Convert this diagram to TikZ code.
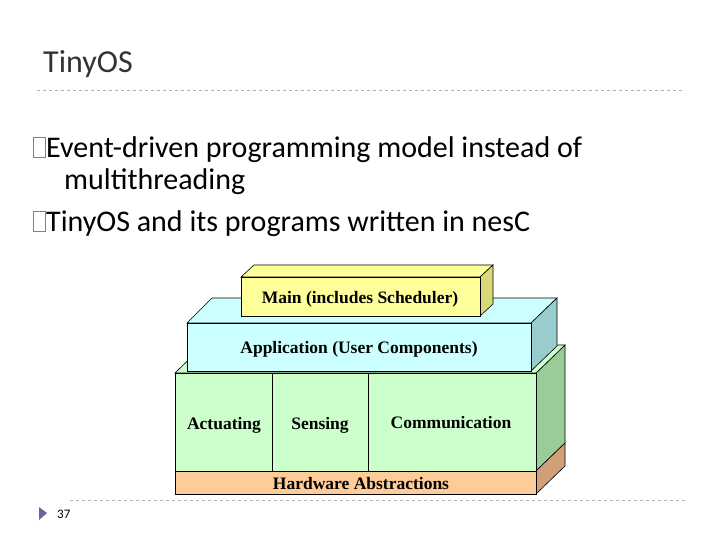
\documentclass[tikz,border=0pt]{standalone}
\usepackage{fontspec}
\setmainfont{Liberation Serif}
\newfontfamily\calib{Carlito}
\begin{document}
\begin{tikzpicture}[x=1pt,y=-1pt,
  face/.style={draw=black,line width=0.6pt},
  lbl/.style={font=\fontsize{17.5}{20}\selectfont\bfseries,inner sep=0},
  bul/.style={font=\calib\fontsize{30}{33}\selectfont,anchor=base west,inner sep=0},
  sepline/.style={dashed,draw=gray!60,line width=0.6pt}]
\useasboundingbox (0,0) rectangle (720,540);
\fill[white] (0,0) rectangle (720,540);
\node[font=\calib\fontsize{32}{35}\selectfont,anchor=base west,inner sep=0,text=black!80] (title) at (43,73) {TinyOS};
\draw[sepline] (37,90) -- (685,90);
\draw[sepline] (70,500) -- (685,500);
% bullets
\draw[gray,line width=0.8pt] (33,137) rectangle (45,157);
\node[bul] (b1) at (46,158) {Event-driven programming model instead of};
\node[bul] (b1b) at (64,190) {multithreading};
\draw[gray,line width=0.8pt] (33,211) rectangle (45,231);
\node[bul] (b2) at (46,232) {TinyOS and its programs written in nesC};
% slide number
\fill[black!65!blue!60] (39,507) -- (47,513) -- (39,520) -- cycle;
\node[font=\calib\fontsize{13}{15}\selectfont,anchor=base west,inner sep=0] (num) at (57,518) {37};
% green block
\draw[face,fill={rgb,255:red,153;green,204;blue,153}] (536,373) -- (565,345) -- (565,443) -- (536,471) -- cycle;
\draw[face,fill={rgb,255:red,204;green,255;blue,204}] (175,373) -- (204,345) -- (565,345) -- (536,373) -- cycle;
\draw[face,fill={rgb,255:red,210;green,160;blue,120}] (536,471) -- (565,443) -- (565,466) -- (536,494) -- cycle;
\draw[face,fill={rgb,255:red,204;green,255;blue,204}] (175,373) rectangle (272,471);
\draw[face,fill={rgb,255:red,204;green,255;blue,204}] (272,373) rectangle (368,471);
\draw[face,fill={rgb,255:red,204;green,255;blue,204}] (368,373) rectangle (536,471);
\draw[face,fill={rgb,255:red,255;green,204;blue,153}] (175,471) rectangle (536,494);
\node[lbl] (act) at (224,425) {Actuating};
\node[lbl] (sen) at (320,425) {Sensing};
\node[lbl] (com) at (451,423) {Communication};
\node[lbl] (hw) at (361,484) {Hardware Abstractions};
% application
\draw[face,fill={rgb,255:red,204;green,255;blue,255}] (187,323) -- (212,298) -- (557,298) -- (531,323) -- cycle;
\draw[face,fill={rgb,255:red,153;green,204;blue,204}] (531,323) -- (557,298) -- (557,346) -- (531,371) -- cycle;
\draw[face,fill={rgb,255:red,204;green,255;blue,255}] (187,323) rectangle (531,371);
\node[lbl] (app) at (359,349) {Application (User Components)};
% main
\draw[face,fill={rgb,255:red,255;green,255;blue,153}] (241,277) -- (254,265) -- (493,265) -- (480,277) -- cycle;
\draw[face,fill={rgb,255:red,217;green,217;blue,120}] (480,277) -- (493,265) -- (493,304) -- (480,316) -- cycle;
\draw[face,fill={rgb,255:red,255;green,255;blue,153}] (241,277) rectangle (480,316);
\node[lbl] (main) at (360,299) {Main (includes Scheduler)};
\end{tikzpicture}
\end{document}
